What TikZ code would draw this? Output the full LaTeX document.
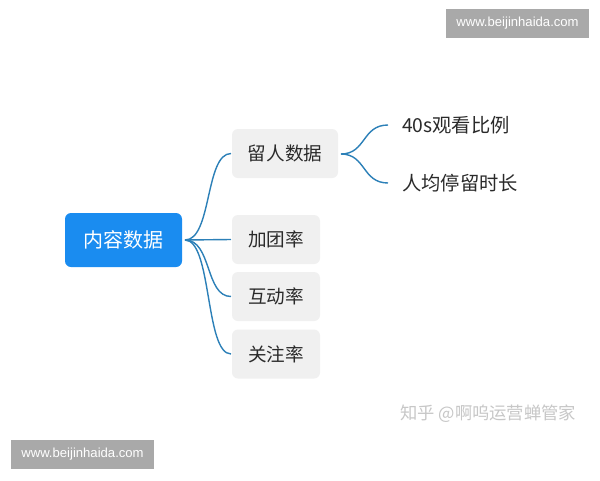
\documentclass[tikz,border=0pt]{standalone}
\usepackage{fontspec}
\setmainfont{Noto Sans CJK SC}
\newfontfamily\latinsans{Liberation Sans}
\definecolor{rootblue}{HTML}{1A8CF0}
\definecolor{boxgray}{HTML}{F0F0F0}
\definecolor{linkblue}{HTML}{2C80B8}
\definecolor{wmgray}{HTML}{A9A9A9}
\definecolor{txtdark}{HTML}{2A2A2A}
\tikzset{
  rootbox/.style={fill=rootblue, rounded corners=6pt, text=white, font=\fontsize{20}{20}\selectfont, minimum width=117pt, minimum height=54pt, inner sep=0pt},
  childbox/.style={fill=boxgray, rounded corners=6pt, text=txtdark, font=\fontsize{18.6}{18.6}\selectfont, minimum height=49pt, inner sep=0pt},
  leaftext/.style={text=txtdark, font=\fontsize{19.3}{19.3}\selectfont, anchor=west, inner sep=0pt},
  link/.style={draw=linkblue, line width=1.4pt},
  wmbox/.style={fill=wmgray, text=white, font=\latinsans\fontsize{13.1}{13.1}\selectfont, minimum width=143pt, minimum height=29pt, inner sep=0pt},
}
\begin{document}
\begin{tikzpicture}[x=1pt,y=-1pt]
\useasboundingbox[fill=white] (0,0) rectangle (600,480);
\node[rootbox] (root) at (123.5,240) {内容数据};
\node[childbox, minimum width=106pt] (c1) at (285,153.5) {留人数据};
\node[childbox, minimum width=88pt] (c2) at (276,239.5) {加团率};
\node[childbox, minimum width=88pt] (c3) at (276,296.5) {互动率};
\node[childbox, minimum width=88pt] (c4) at (276,354) {关注率};
\node[leaftext] (l1) at (402,125) {40s观看比例};
\node[leaftext] (l2) at (402,183) {人均停留时长};
\coordinate (r) at (185,240);
\coordinate (c1in) at (231,153.5);
\coordinate (c2in) at (231,239.5);
\coordinate (c3in) at (231,296.5);
\coordinate (c4in) at (231,354);
\draw[link] (r) .. controls (212,240) and (205,153.5) .. (c1in);
\draw[link] (r) -- (c2in);
\draw[link] (r) .. controls (212,240) and (205,296.5) .. (c3in);
\draw[link] (r) .. controls (212,240) and (205,354) .. (c4in);
\coordinate (c1out) at (341,154);
\coordinate (l1in) at (388,125);
\coordinate (l2in) at (388,183);
\draw[link] (c1out) .. controls (366,154) and (362,125) .. (l1in);
\draw[link] (c1out) .. controls (366,154) and (362,183) .. (l2in);
\node[wmbox] (wm1) at (517.5,23.5) {www.beijinhaida.com};
\node[wmbox] (wm2) at (82.5,454.5) {www.beijinhaida.com};
\node[text=black!22, font=\fontsize{17.3}{17.3}\selectfont, anchor=west, inner sep=0pt] (zh) at (400,414) {知乎 @啊呜运营蝉管家};
\end{tikzpicture}
\end{document}
